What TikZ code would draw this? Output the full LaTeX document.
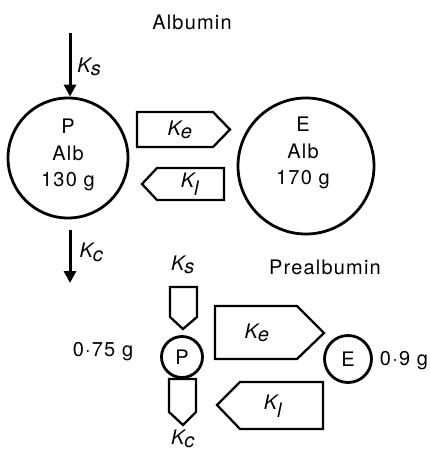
\documentclass[tikz,border=0pt]{standalone}
\usepackage{fontspec}
\setmainfont{TeX Gyre Heros}[LetterSpace=6]
\usetikzlibrary{arrows.meta}

\tikzset{
  pool/.style={draw, circle, line width=2.8pt, inner sep=0pt},
  flux/.style={draw, line width=2.3pt, line join=miter},
  feed/.style={line width=3pt, -{Triangle[length=12pt,width=12pt]}},
  txt/.style={font=\fontsize{20}{26.5}\selectfont, align=center, inner sep=0pt},
}
\newcommand{\kk}[1]{$\textit{K}_{\textit{#1}}$}

\begin{document}
\begin{tikzpicture}[x=1pt,y=-1pt]
\useasboundingbox (0,0) rectangle (430,451);

% albumin
\node[txt] (alb) at (192,22) {Albumin};
\node[pool, minimum size=120pt] (P) at (68,158) {};
\node[pool, minimum size=136pt] (E) at (306,166) {};
\node[txt] (Ptxt) at (68,155) {P\\Alb\\130 g};
\node[txt] (Etxt) at (303,153) {E\\Alb\\170 g};

\coordinate (ks0) at (70,33);
\coordinate (kc1) at (70,283);
\draw[feed] (ks0) -- (ks0 |- P.north) node[txt, right, midway, xshift=6pt, yshift=-2pt] (ks) {\kk{s}};
\draw[feed] (70,230) -- (kc1) node[txt, right, midway, xshift=8pt, yshift=4pt] (kc) {\kk{c}};

\draw[flux] (137,112) -- (213,112) -- (230,129.5) -- (213,147) -- (137,147) -- cycle;
\node[txt] (ke) at (180,130) {\kk{e}};
\draw[flux] (142,184) -- (157,168) -- (224,168) -- (224,200) -- (157,200) -- cycle;
\node[txt] (kl) at (190,184) {\kk{l}};

% prealbumin
\node[txt] (pre) at (325,267) {Prealbumin};
\node[pool, minimum size=41pt] (p) at (182,357) {};
\node[txt] (ptxt) at (182,357) {P};
\node[pool, minimum size=47pt] (e) at (348,359) {};
\node[txt] (etxt) at (348,359) {E};
\node[txt] (pm) at (103,352) {0·75 g};
\node[txt] (em) at (404,361) {0·9 g};

\draw[flux] (170,287) -- (197,287) -- (197,317) -- (183,329) -- (170,317) -- cycle;
\node[txt] (kss) at (183,265) {\kk{s}};
\draw[flux] (169,379) -- (196,379) -- (196,412) -- (183,425) -- (169,412) -- cycle;
\node[txt] (kcc) at (183,439) {\kk{c}};

\draw[flux] (215,306) -- (297,306) -- (324,333) -- (297,359) -- (215,359) -- cycle;
\node[txt] (kee) at (257,333) {\kk{e}};
\draw[flux] (217,405) -- (240,382) -- (323,382) -- (323,429) -- (240,429) -- cycle;
\node[txt] (kll) at (273,406) {\kk{l}};

\end{tikzpicture}
\end{document}
